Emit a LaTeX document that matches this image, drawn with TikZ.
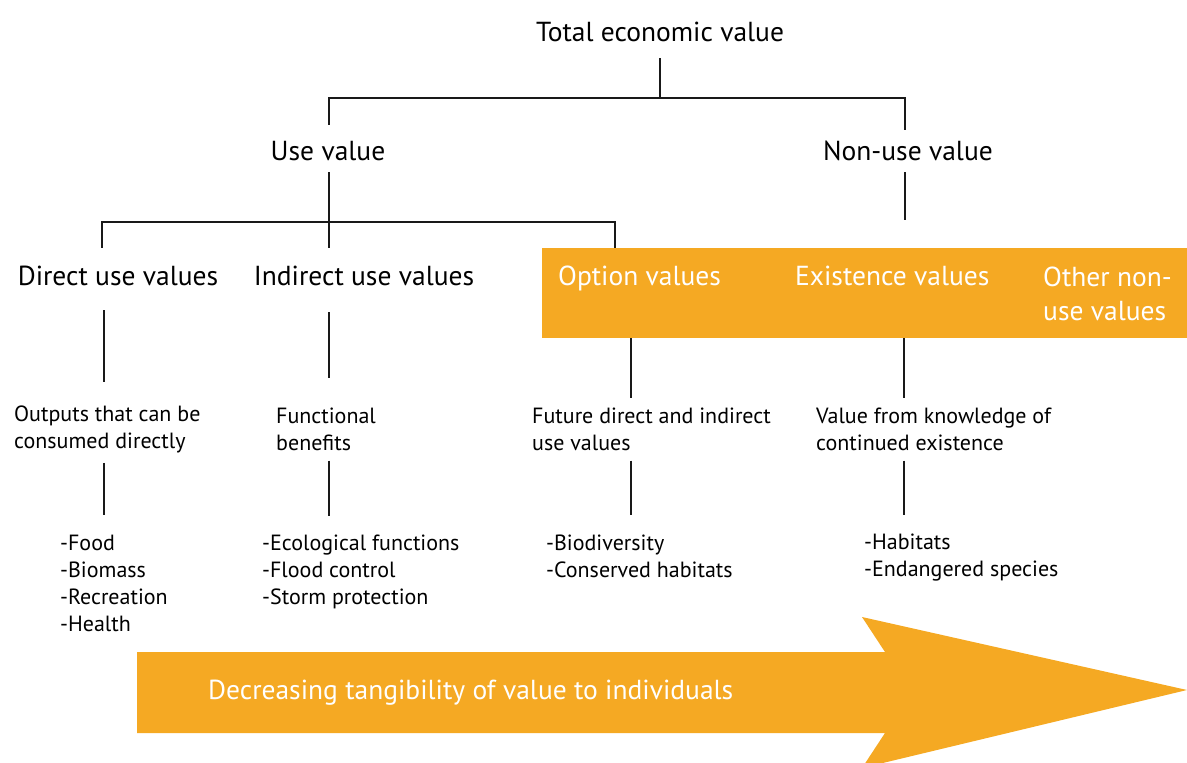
\documentclass[tikz,border=0pt]{standalone}
\usepackage{fontspec}
\setmainfont{PT Sans}
\usetikzlibrary{positioning,calc}
\definecolor{tevorange}{RGB}{245,169,35}

\begin{document}
\begin{tikzpicture}[
    x=1pt, y=-1pt,
    head/.style={font=\fontsize{27.5}{32}\selectfont, inner sep=0pt, text height=21pt, text depth=3pt},
    bandtxt/.style={head, text=white, anchor=west},
    desc/.style={font=\fontsize{22}{27}\selectfont, inner sep=0pt, align=left, anchor=west},
    link/.style={line width=1.8pt, black!90},
  ]
    \useasboundingbox (0,0) rectangle (1187,763);
    \clip (0,0) rectangle (1187,763);

    % orange band and arrow
    \node[fill=tevorange, inner sep=0pt, minimum width=645, minimum height=90, anchor=north west] (band) at (542,248) {};
    \fill[tevorange] (137,652) -- (885,652) -- (862,617) -- (1187,690) -- (862,768) -- (885,733) -- (137,733) -- cycle;

    \node[head] (tev)      at (660,32)  {Total economic value};
    \node[head] (usev)     at (328,151) {Use value};
    \node[head] (nonuse)   at (908,151) {Non-use value};
    \node[head] (direct)   at (118,276) {Direct use values};
    \node[head] (indirect) at (364,276) {Indirect use values};
    \node[bandtxt] (option) at (558,276) {Option values};
    \node[bandtxt] (exist)  at (795,276) {Existence values};
    \node[font=\fontsize{27.5}{34}\selectfont, text=white, inner sep=0pt, align=left, anchor=west] (other) at (1043,294) {Other non-\\use values};

    \node[desc] (outp)   at (14,429)  {Outputs that can be\\consumed directly};
    \node[desc] (func)   at (276,429) {Functional\\benefits};
    \node[desc] (future) at (532,429) {Future direct and indirect\\use values};
    \node[desc] (know)   at (816,429) {Value from knowledge of\\continued existence};

    \node[desc] (food)  at (60,583)  {-Food\\-Biomass\\-Recreation\\-Health};
    \node[desc] (ecol)  at (262,572) {-Ecological functions\\-Flood control\\-Storm protection};
    \node[desc] (biod)  at (546,556) {-Biodiversity\\-Conserved habitats};
    \node[desc] (habit) at (864,558) {-Habitats\\-Endangered species};

    \node[head, text=white, anchor=west] (tang) at (208,690) {Decreasing tangibility of value to individuals};

    % tree lines
    \draw[link] ([yshift=-14pt]tev.south) -- ++(0,40) coordinate (j0);
    \draw[link] ([xshift=1pt,yshift=14pt]usev.north) |- (j0) -| ([xshift=-3pt,yshift=9pt]nonuse.north);
    \draw[link] ([xshift=1pt,yshift=-9pt]usev.south) -- ++(0,50) coordinate (j1) -- ++(0,26);
    \draw[link] ([xshift=-16pt,yshift=16pt]direct.north) |- (j1) -| ([xshift=73pt]band.north west);
    \draw[link] ([xshift=-3pt,yshift=-9pt]nonuse.south) -- ++(0,48);

    \draw[link] ([xshift=-14pt,yshift=-22pt]direct.south) -- ++(0,72);
    \draw[link] ([xshift=-35pt,yshift=-24pt]indirect.south) -- ++(0,66);
    \draw[link] ([xshift=89pt]band.south west) -- ++(0,60);
    \draw[link] ([xshift=362pt]band.south west) -- ++(0,60);

    \foreach \d/\l/\x in {outp/food/104, func/ecol/329, future/biod/631, know/habit/904}{
      \draw[link] ($(\x,0 |- \d.south)+(0,10)$) -- ($(\x,0 |- \l.north)+(0,-19)$);
    }
  \end{tikzpicture}
\end{document}
